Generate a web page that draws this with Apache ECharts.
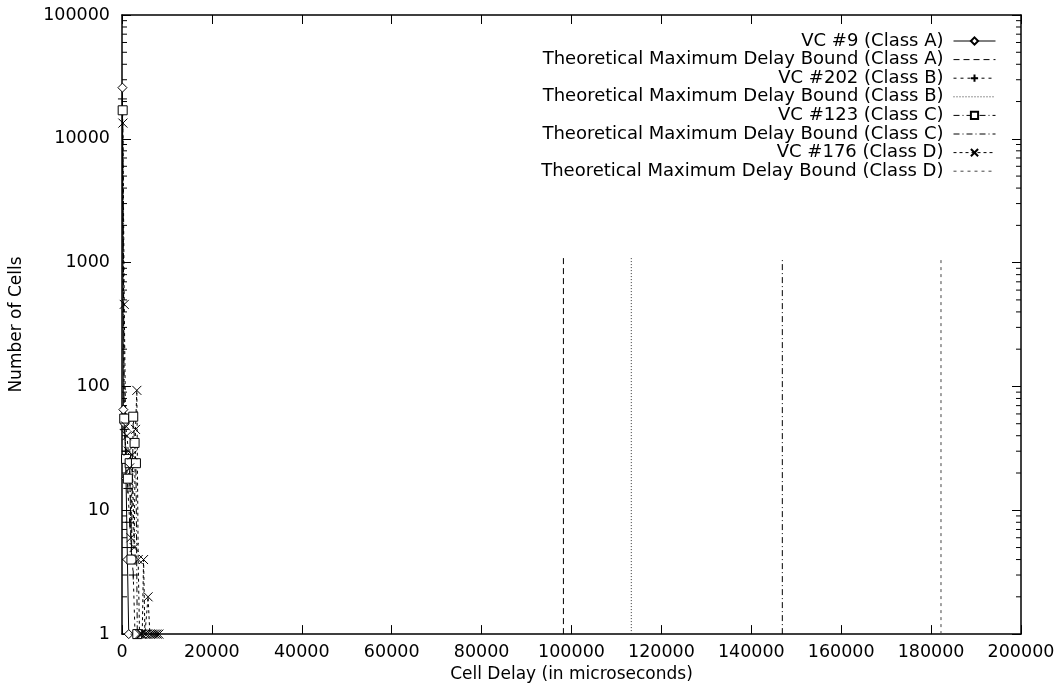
<!DOCTYPE html>
<html>
<head>
<meta charset="utf-8">
<script src="https://cdn.jsdelivr.net/npm/echarts@6/dist/echarts.min.js"></script>
<style>html,body{margin:0;padding:0;background:#fff}#c{width:1060px;height:688px}</style>
</head>
<body>
<div id="c"></div>
<script>
// ---- data ----
const seriesNames = [
  'VC #9 (Class A)', 'Theoretical Maximum Delay Bound (Class A)',
  'VC #202 (Class B)', 'Theoretical Maximum Delay Bound (Class B)',
  'VC #123 (Class C)', 'Theoretical Maximum Delay Bound (Class C)',
  'VC #176 (Class D)', 'Theoretical Maximum Delay Bound (Class D)'
];
const vcA_x = [100, 300, 600, 900, 1200, 1500];
const vcA_y = [25900, 65, 50, 18, 4, 1];
const vcB_x = [100, 500, 900, 1300, 1700, 2100, 2500, 2900];
const vcB_y = [21000, 45, 30, 15, 8, 5, 3, 1];
const vcC_x = [150, 500, 900, 1300, 1700, 2100, 2500, 2800, 3100, 3400];
const vcC_y = [17000, 55, 26, 18, 24, 4, 57, 35, 24, 1];
const vcD_x = [200, 500, 800, 1100, 1400, 1700, 2000, 2300, 2700, 3000, 3300, 3600, 3900, 4200, 4500, 4800, 5100, 5500, 5800, 6200, 6600, 7000, 7400, 7800, 8200];
const vcD_y = [13400, 460, 48, 40, 30, 22, 6, 28, 5, 45, 93, 4, 1, 1, 1, 4, 1, 1, 2, 1, 1, 1, 1, 1, 1];
const boundX = [98200, 113300, 146900, 182200];   // Class A, B, C, D
const boundYBottom = 1;
const boundYTop = 1100;
const xMin = 0, xMax = 200000, xStep = 20000;
const yMin = 1, yMax = 100000;
const yMinorTicks = [2,3,4,5,6,7,8,9,20,30,40,50,60,70,80,90,200,300,400,500,600,700,800,900,
  2000,3000,4000,5000,6000,7000,8000,9000,20000,30000,40000,50000,60000,70000,80000,90000];

// ---- chart ----
const zip = (xs, ys) => xs.map((x, i) => [x, ys[i]]);
const FONT = '"DejaVu Sans", sans-serif';
const FS = 17.5;
const black = '#000';
const plusPath = 'path://M0,5L10,5M5,0L5,10';
const crossPath = 'path://M0,0L10,10M0,10L10,0';

function vcSeries(name, data, symbol, size, dash) {
  return {
    name, type: 'line', data, symbol, symbolSize: size, showSymbol: true,
    lineStyle: { color: black, width: 1, type: dash },
    itemStyle: { color: symbol.startsWith('path') ? 'none' : '#fff', borderColor: black, borderWidth: 1 },
    emphasis: { disabled: true }, animation: false, clip: true, z: 3
  };
}
function boundSeries(name, x, dash, color) {
  return {
    name, type: 'line', data: [[x, boundYBottom], [x, boundYTop]], symbol: 'circle', symbolSize: 0, showSymbol: false,
    lineStyle: { color: color, width: 1, type: dash },
    itemStyle: { color: 'rgba(0,0,0,0)', borderWidth: 0 },
    emphasis: { disabled: true }, animation: false, z: 2
  };
}

const minorData = [];
yMinorTicks.forEach(v => { minorData.push([xMin, v, 1]); minorData.push([xMax, v, -1]); });

const option = {
  backgroundColor: '#fff',
  animation: false,
  textStyle: { fontFamily: FONT },
  grid: { left: 121, right: 39, top: 15, bottom: 51, containLabel: false },
  legend: {
    orient: 'vertical', right: 64, top: 32, align: 'right', padding: 0,
    itemWidth: 42, itemHeight: 9, itemGap: 0.6,
    selectedMode: false,
    lineStyle: { width: 1 },
    textStyle: { fontFamily: FONT, fontSize: 18, color: black, lineHeight: 18, padding: [0, 5, 0, 0] },
    data: seriesNames
  },
  xAxis: [
    {
      type: 'value', min: xMin, max: xMax, interval: xStep, position: 'bottom',
      name: 'Cell Delay (in microseconds)', nameLocation: 'middle', nameGap: 31,
      nameTextStyle: { fontFamily: FONT, fontSize: 17, color: black },
      axisLine: { onZero: false, lineStyle: { color: black, width: 1.5 } },
      axisTick: { inside: true, length: 9, lineStyle: { color: black, width: 1 } },
      axisLabel: { fontFamily: FONT, fontSize: FS, color: black, margin: 9, formatter: v => String(v) },
      splitLine: { show: false }
    },
    {
      type: 'value', min: xMin, max: xMax, interval: xStep, position: 'top',
      axisLine: { onZero: false, lineStyle: { color: black, width: 1.5 } },
      axisTick: { inside: true, length: 9, lineStyle: { color: black, width: 1 } },
      axisLabel: { show: false }, splitLine: { show: false }
    }
  ],
  yAxis: [
    {
      type: 'log', logBase: 10, min: yMin, max: yMax, position: 'left',
      name: 'Number of Cells', nameLocation: 'middle', nameGap: 97, nameRotate: 90,
      nameTextStyle: { fontFamily: FONT, fontSize: 17, color: black },
      axisLine: { onZero: false, lineStyle: { color: black, width: 1.5 } },
      axisTick: { inside: true, length: 9, lineStyle: { color: black, width: 1 } },
      axisLabel: { fontFamily: FONT, fontSize: FS, color: black, margin: 12,
        formatter: v => String(Math.round(v)) },
      splitLine: { show: false }, minorTick: { show: false }
    },
    {
      type: 'log', logBase: 10, min: yMin, max: yMax, position: 'right',
      axisLine: { onZero: false, lineStyle: { color: black, width: 1.5 } },
      axisTick: { inside: true, length: 9, lineStyle: { color: black, width: 1 } },
      axisLabel: { show: false }, splitLine: { show: false }
    }
  ],
  series: [
    {
      type: 'custom', name: 'minor', data: minorData, silent: true, clip: false, z: 1,
      renderItem: (params, api) => {
        const p = api.coord([api.value(0), api.value(1)]);
        const dir = api.value(2);
        return { type: 'line', shape: { x1: p[0], y1: p[1], x2: p[0] + dir * 5, y2: p[1] },
          style: { stroke: black, lineWidth: 1 } };
      }
    },
    vcSeries(seriesNames[0], zip(vcA_x, vcA_y), 'diamond', 9, 'solid'),
    boundSeries(seriesNames[1], boundX[0], [6, 4], black),
    vcSeries(seriesNames[2], zip(vcB_x, vcB_y), plusPath, 9, [3, 4]),
    boundSeries(seriesNames[3], boundX[1], [1, 2], '#333'),
    vcSeries(seriesNames[4], zip(vcC_x, vcC_y), 'rect', 9, [6, 3, 1, 3]),
    boundSeries(seriesNames[5], boundX[2], [6, 3, 1, 3], black),
    vcSeries(seriesNames[6], zip(vcD_x, vcD_y), crossPath, 9, [3, 3]),
    boundSeries(seriesNames[7], boundX[3], [3, 4], '#444')
  ]
};
const chart = echarts.init(document.getElementById('c'), null, { renderer: 'canvas' });
chart.setOption(option);
</script>
</body>
</html>
